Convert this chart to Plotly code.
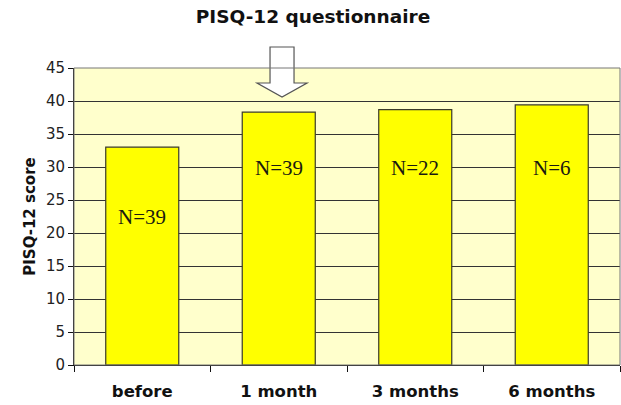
import plotly.graph_objects as go

categories = ["before", "1 month", "3 months", "6 months"]
scores = [33.0, 38.3, 38.7, 39.4]
n_labels = ["N=39", "N=39", "N=22", "N=6"]
y_ticks = [0, 5, 10, 15, 20, 25, 30, 35, 40, 45]

fig = go.Figure()
fig.add_trace(go.Bar(
    x=categories, y=scores,
    marker=dict(color="#FFFF00", line=dict(color="#3a3a2a", width=1.2)),
    width=0.535, showlegend=False, hoverinfo="x+y",
))

# N annotations inside bars
label_y = [22.4, 29.8, 29.8, 29.8]
for c, t, yv in zip(categories, n_labels, label_y):
    fig.add_annotation(x=c, y=yv, text=t, showarrow=False,
                       font=dict(family="Liberation Serif", size=21, color="#1a1a10"))

W, H = 621, 405
ml, mr, mt, mb = 74, 1, 68, 40

# Block arrow above "1 month" (paper coords from category index)
idx = 1
cx = (idx + 0.5) / len(categories) + 0.006
pw = (W - ml - mr)
ph = (H - mt - mb)
def px(dx):
    return cx + dx / pw
def py(pix):
    return (H - mb - pix) / ph
path = (f"M {px(-12)} {py(47)} L {px(12)} {py(47)} L {px(12)} {py(83)} "
        f"L {px(25)} {py(83)} L {px(0)} {py(97)} L {px(-25)} {py(83)} "
        f"L {px(-12)} {py(83)} Z")
fig.add_shape(type="path", xref="paper", yref="paper", path=path,
              fillcolor="white", line=dict(color="#555555", width=1.2), layer="above")

fig.update_layout(
    width=W, height=H,
    margin=dict(l=ml, r=mr, t=mt, b=mb),
    paper_bgcolor="white",
    plot_bgcolor="#FFFFCC",
    title=dict(text="<b>PISQ-12 questionnaire</b>", x=313 / W, xref="container",
               xanchor="center", y=1 - 17 / H, yanchor="middle",
               font=dict(family="DejaVu Sans", size=18.5, color="#111")),
    bargap=0.465,
    font=dict(family="DejaVu Sans", color="#111"),
)
fig.update_yaxes(
    range=[0, 45], tickvals=y_ticks, ticks="outside", ticklen=5, tickcolor="#111",
    showgrid=True, gridcolor="#333333", gridwidth=1,
    showline=True, linecolor="#111", linewidth=1, mirror=False,
    tickfont=dict(family="DejaVu Sans", size=15, color="#222"),
    title=dict(text="<b>PISQ-12 score</b>", font=dict(family="DejaVu Sans", size=15, color="#111"),
               standoff=6),
    zeroline=False,
)
fig.update_xaxes(
    tickson="boundaries", ticks="outside", ticklen=6, tickcolor="#111",
    showline=True, linecolor="#111", linewidth=1,
    tickfont=dict(family="DejaVu Sans", size=16.5, color="#111"),
    tickprefix="<b>", ticksuffix="</b>",
    ticklabelstandoff=11,
)
# plot area border (right and top)
fig.add_shape(type="rect", xref="paper", yref="paper", x0=0, x1=1, y0=0, y1=1,
              line=dict(color="#777777", width=1), layer="above")

fig.write_html("out.html", config={"displayModeBar": False},
               post_script="document.body.style.margin='0px';")
